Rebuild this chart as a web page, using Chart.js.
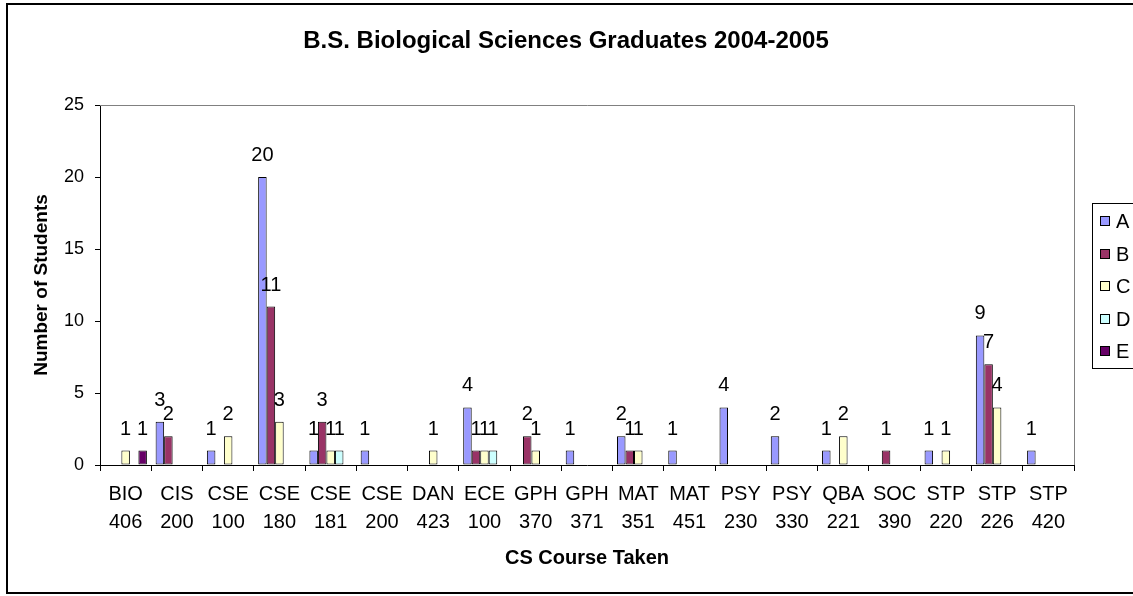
<!DOCTYPE html>
<html>
<head>
<meta charset="utf-8">
<script src="https://cdn.jsdelivr.net/npm/chart.js@4/dist/chart.umd.min.js"></script>
<style>
  html, body { margin: 0; padding: 0; background: #fff; overflow: hidden; }
  #wrap { width: 1133px; height: 596px; position: relative; }
</style>
</head>
<body>
<div id="wrap"><canvas id="myChart" width="1133" height="596"></canvas></div>
<script>
// course codes, shown on two lines under the axis
const courses = [
  ["BIO", "406"], ["CIS", "200"], ["CSE", "100"], ["CSE", "180"], ["CSE", "181"],
  ["CSE", "200"], ["DAN", "423"], ["ECE", "100"], ["GPH", "370"], ["GPH", "371"],
  ["MAT", "351"], ["MAT", "451"], ["PSY", "230"], ["PSY", "330"], ["QBA", "221"],
  ["SOC", "390"], ["STP", "220"], ["STP", "226"], ["STP", "420"]
];

// number of students per grade
const gradeA = [0, 3, 1, 20, 1, 1, 0, 4, 0, 1, 2, 1, 4, 2, 1, 0, 1, 9, 1];
const gradeB = [0, 2, 0, 11, 3, 0, 0, 1, 2, 0, 1, 0, 0, 0, 0, 1, 0, 7, 0];
const gradeC = [1, 0, 2, 3, 1, 0, 1, 1, 1, 0, 1, 0, 0, 0, 2, 0, 1, 4, 0];
const gradeD = [0, 0, 0, 0, 1, 0, 0, 1, 0, 0, 0, 0, 0, 0, 0, 0, 0, 0, 0];
const gradeE = [1, 0, 0, 0, 0, 0, 0, 0, 0, 0, 0, 0, 0, 0, 0, 0, 0, 0, 0];

const seriesNames = ["A", "B", "C", "D", "E"];
const yTicks = [0, 5, 10, 15, 20, 25];
const chartTitle = "B.S. Biological Sciences Graduates 2004-2005";

const FONT = "'Liberation Sans', Arial, sans-serif";
const colors = ["#9999ff", "#993366", "#ffffcc", "#ccffff", "#660066"];
const allSeries = [gradeA, gradeB, gradeC, gradeD, gradeE];

//zero means no bar in the original, so pass null instead
const datasets = allSeries.map((vals, i) => ({
  label: seriesNames[i],
  data: vals.map(v => (v === 0 ? null : v)),
  backgroundColor: colors[i],
  borderColor: "#000",
  borderWidth: 1,
  borderSkipped: false,
  categoryPercentage: 0.83,
  barPercentage: 1.0,
}));

// frame, title, plot border, value labels and the boxed legend on the right
const excelLook = {
  id: "excelLook",
  beforeDraw(chart) {
    const ctx = chart.ctx;
    ctx.save();
    ctx.fillStyle = "#fff";
    ctx.fillRect(0, 0, chart.width, chart.height);
    ctx.restore();
  },
  afterDatasetsDraw(chart) {
    const ctx = chart.ctx;
    const area = chart.chartArea;
    ctx.save();
    // gray top and right border of plot area
    ctx.strokeStyle = "#808080";
    ctx.lineWidth = 1;
    ctx.beginPath();
    ctx.moveTo(area.left, area.top + 0.5);
    ctx.lineTo(area.right + 0.5, area.top + 0.5);
    ctx.lineTo(area.right + 0.5, area.bottom);
    ctx.stroke();

    // value labels
    ctx.fillStyle = "#000";
    ctx.font = "20px " + FONT;
    ctx.textAlign = "center";
    ctx.textBaseline = "alphabetic";
    chart.data.datasets.forEach((ds, i) => {
      const meta = chart.getDatasetMeta(i);
      meta.data.forEach((bar, j) => {
        const v = ds.data[j];
        if (v == null) return;
        ctx.fillText(String(v), bar.x, bar.y - 16);
      });
    });
    ctx.restore();
  },
  afterDraw(chart) {
    const ctx = chart.ctx;
    ctx.save();
    // outer frame
    ctx.strokeStyle = "#000";
    ctx.lineWidth = 2;
    ctx.strokeRect(7, 4, 1140, 589);

    // title, centred on the whole frame
    ctx.fillStyle = "#000";
    ctx.font = "bold 24px " + FONT;
    ctx.textAlign = "center";
    ctx.textBaseline = "middle";
    ctx.fillText(chartTitle, 566, 41);

    // legend box
    ctx.lineWidth = 1;
    ctx.strokeStyle = "#000";
    ctx.strokeRect(1092.5, 203.5, 60, 165);
    ctx.font = "20px " + FONT;
    ctx.textAlign = "left";
    ctx.textBaseline = "middle";
    chart.data.datasets.forEach((ds, i) => {
      const cy = Math.round(221 + i * 32.5);
      ctx.fillStyle = ds.backgroundColor;
      ctx.fillRect(1100, cy - 5, 10, 10);
      ctx.strokeRect(1100.5, cy - 4.5, 9, 9);
      ctx.fillStyle = "#000";
      ctx.fillText(ds.label, 1116, cy + 1);
    });
    ctx.restore();
  }
};

new Chart("myChart", {
  type: "bar",
  data: {
    labels: courses,
    datasets: datasets,
  },
  plugins: [excelLook],
  options: {
    responsive: false,
    animation: false,
    layout: { padding: { left: 0, right: 59, top: 105, bottom: 0 } },
    plugins: {
      legend: { display: false },
      tooltip: { enabled: false },
      title: { display: false },
    },
    scales: {
      x: {
        afterFit(scale) { scale.height = 131; },
        grid: {
          display: true,
          offset: true,
          drawOnChartArea: false,
          drawTicks: true,
          tickLength: 6,
          tickColor: "#000",
        },
        border: { display: true, color: "#000", width: 1 },
        ticks: {
          color: "#000",
          padding: 9,
          maxRotation: 0,
          autoSkip: false,
          font: { family: FONT, size: 20, lineHeight: 1.4 },
        },
        title: {
          display: true,
          text: "CS Course Taken",
          color: "#000",
          font: { family: FONT, size: 20, weight: "bold", lineHeight: 1.2 },
          padding: { top: 0, bottom: 26 },
        },
      },
      y: {
        min: 0,
        max: 25,
        afterFit(scale) { scale.width = 100; },
        afterBuildTicks(scale) {
          scale.ticks = yTicks.map(v => ({ value: v }));
        },
        grid: {
          display: true,
          drawOnChartArea: false,
          drawTicks: true,
          tickLength: 5,
          tickColor: "#000",
        },
        border: { display: true, color: "#000", width: 1 },
        ticks: {
          color: "#000",
          padding: 11,
          font: { family: FONT, size: 18 },
        },
        title: {
          display: true,
          text: "Number of Students",
          color: "#000",
          font: { family: FONT, size: 19, weight: "bold", lineHeight: 1.2 },
          padding: { top: 30, bottom: 0 },
        },
      },
    },
  },
});
</script>
</body>
</html>
